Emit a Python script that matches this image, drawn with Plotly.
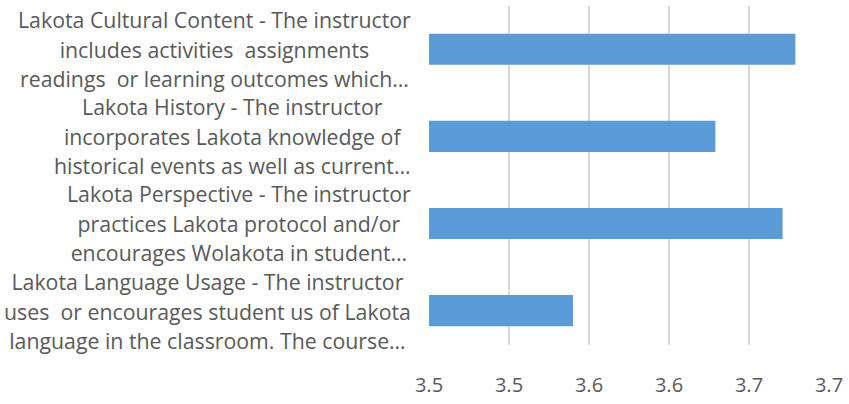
import plotly.graph_objects as go

categories = [
    "Lakota Cultural Content - The instructor<br>includes activities  assignments<br>readings  or learning outcomes which…",
    "Lakota History - The instructor<br>incorporates Lakota knowledge of<br>historical events as well as current…",
    "Lakota Perspective - The instructor<br>practices Lakota protocol and/or<br>encourages Wolakota in student…",
    "Lakota Language Usage - The instructor<br>uses  or encourages student us of Lakota<br>language in the classroom. The course…",
]
values = [3.679, 3.629, 3.671, 3.540]
tick_vals = [3.45, 3.50, 3.55, 3.60, 3.65, 3.70]
tick_text = ["3.5", "3.5", "3.6", "3.6", "3.7", "3.7"]

ids = ["c0", "c1", "c2", "c3"]

fig = go.Figure()
fig.add_trace(go.Bar(
    x=values, y=ids, orientation="h",
    marker=dict(color="#5B9BD5", line=dict(width=0)),
    width=0.357,
    hoverinfo="x",
))

for cid, label in zip(ids, categories):
    fig.add_annotation(
        x=0, xref="paper", xshift=-16, y=cid, yref="y",
        xanchor="right", yanchor="middle", align="center",
        text="<span style='font-size:21.3px'>" + label + "</span>",
        showarrow=False,
        font=dict(family="Open Sans", size=22.7, color="#595959"),
    )

fig.update_layout(
    width=849, height=404,
    margin=dict(l=429, r=18, t=6, b=52),
    paper_bgcolor="white", plot_bgcolor="white",
    showlegend=False,
    font=dict(family="Open Sans", color="#595959"),
)
fig.update_xaxes(
    range=[3.45, 3.70], tickvals=tick_vals, ticktext=tick_text,
    showgrid=True, gridcolor="#D9D9D9", gridwidth=2,
    zeroline=False, showline=False, ticks="",
    tickfont=dict(family="Open Sans", size=20, color="#595959"),
    ticklabelstandoff=26,
)
fig.update_yaxes(
    type="category", categoryorder="array", categoryarray=ids,
    range=[3.395, -0.497], showticklabels=False,
    showgrid=False, zeroline=False, showline=False, ticks="",
)

fig.write_html(
    "out.html",
    config={"displayModeBar": False},
    post_script="document.body.style.margin='0';document.body.style.overflow='hidden';",
)
